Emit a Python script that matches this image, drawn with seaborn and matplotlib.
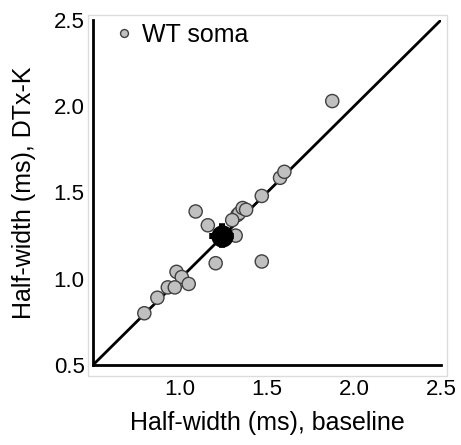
import matplotlib
matplotlib.use("Agg")
import matplotlib.pyplot as plt
import seaborn as sns
import pandas as pd
from matplotlib.patches import Rectangle

baseline = [1.47, 1.09, 1.33, 1.34, 1.36, 1.38, 1.30, 1.16, 1.32, 1.205, 1.47,
            0.98, 1.01, 1.05, 0.93, 0.97, 0.87, 0.795, 1.575, 1.60, 1.875]
dtxk = [1.48, 1.39, 1.37, 1.38, 1.41, 1.40, 1.34, 1.31, 1.25, 1.09, 1.10,
        1.04, 1.01, 0.97, 0.95, 0.95, 0.89, 0.80, 1.585, 1.62, 2.03]
mean_x, mean_y = 1.24, 1.25
sem_x, sem_y = 0.055, 0.055
ticks = [0.5, 1.0, 1.5, 2.0, 2.5]
tick_labels = ["0.5", "1.0", "1.5", "2.0", "2.5"]
series_name = "WT soma"

df = pd.DataFrame({"x": baseline, "y": dtxk, "group": series_name})

sns.set_style("white")
plt.rcParams["font.family"] = ["Liberation Sans", "DejaVu Sans"]
plt.rcParams["text.color"] = "black"
plt.rcParams["axes.labelcolor"] = "black"
plt.rcParams["xtick.color"] = "black"
plt.rcParams["ytick.color"] = "black"

fig = plt.figure(figsize=(4.61, 4.45), dpi=100)
ax = fig.add_axes([93/461, 80/445, 348/461, 345/445])

fig.add_artist(Rectangle((88/461, 69/445), 359/461, 361/445, transform=fig.transFigure,
                         fill=False, edgecolor="#dcdcdc", linewidth=1, zorder=0))

ax.plot([0.5, 2.5], [0.5, 2.5], color="black", linewidth=2, zorder=1)
sns.scatterplot(data=df, x="x", y="y", hue="group", palette=["#c0c0c0"],
                s=90, edgecolor="#404040", linewidth=1, ax=ax, zorder=2, legend=True)
ax.errorbar([mean_x], [mean_y], xerr=[sem_x], yerr=[sem_y], fmt="o", color="black",
            markersize=15, elinewidth=4, capsize=2.5, capthick=4, zorder=3)

ax.set_xlim(0.5, 2.5)
ax.set_ylim(0.5, 2.5)
ax.set_xticks(ticks[1:])
ax.set_xticklabels(tick_labels[1:])
ax.set_yticks(ticks)
ax.set_yticklabels(tick_labels)
for s in ["top", "right"]:
    ax.spines[s].set_visible(False)
for s in ["left", "bottom"]:
    ax.spines[s].set_color("black")
    ax.spines[s].set_linewidth(2)
ax.tick_params(axis="x", direction="in", length=4, width=1.5, pad=10, labelsize=16, colors="black")
ax.tick_params(axis="y", direction="out", length=4, width=1.5, pad=2, labelsize=16, colors="black")
ax.set_xlabel("Half-width (ms), baseline", fontsize=18, labelpad=8)
ax.set_ylabel("Half-width (ms), DTx-K", fontsize=18, labelpad=13)

leg = ax.legend(loc="upper left", bbox_to_anchor=(0.032, 1.02), frameon=False,
                fontsize=18, handlelength=0.8, handletextpad=0.3, borderaxespad=0,
                markerscale=0.6)
leg.set_title(None)

fig.savefig("out.png", dpi=100)
